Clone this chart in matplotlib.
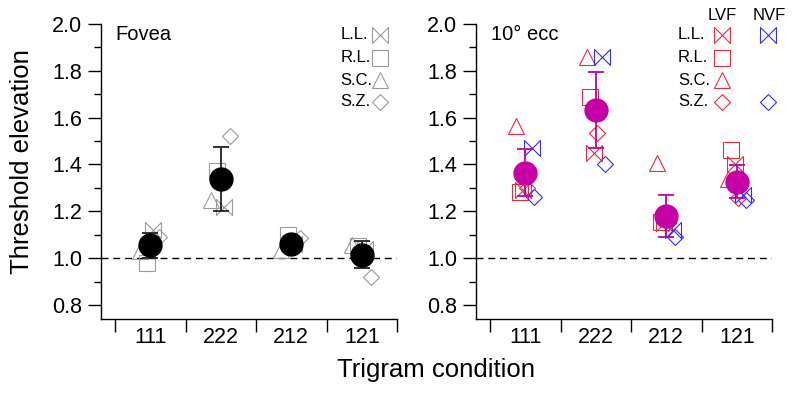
import numpy as np
import matplotlib
matplotlib.use('Agg')
import matplotlib.pyplot as plt
from matplotlib.path import Path

plt.rcParams['font.family'] = ['Liberation Sans', 'DejaVu Sans']

conditions = ['111', '222', '212', '121']
subjects = ['L.L.', 'R.L.', 'S.C.', 'S.Z.']

# fovea: individual subjects (grey) and mean +/- error
fovea_subj = {
    'L.L.': [1.12, 1.22, 1.06, 1.04],
    'R.L.': [0.98, 1.37, 1.10, 1.05],
    'S.C.': [1.03, 1.25, 1.035, 1.057],
    'S.Z.': [1.09, 1.52, 1.087, 0.92],
}
fovea_mean = [1.054, 1.338, 1.061, 1.014]
fovea_err = [0.054, 0.136, 0.0, 0.058]

# 10 deg eccentricity: LVF (red) and NVF (blue)
ecc_lvf = {
    'L.L.': [1.29, 1.45, 1.15, 1.40],
    'R.L.': [1.283, 1.69, 1.155, 1.462],
    'S.C.': [1.565, 1.86, 1.405, 1.34],
    'S.Z.': [1.30, 1.535, 1.15, 1.257],
}
ecc_nvf = {
    'L.L.': [1.47, 1.86, 1.12, 1.27],
    'S.Z.': [1.262, 1.40, 1.09, 1.25],
}
ecc_mean = [1.364, 1.633, 1.18, 1.326]
ecc_err = [0.10, 0.163, 0.09, 0.07]

bowtie = Path([(-1, -1), (-1, 1), (1, -1), (1, 1), (-1, -1)],
              [Path.MOVETO, Path.LINETO, Path.LINETO, Path.LINETO, Path.CLOSEPOLY])
markers = {'L.L.': (bowtie, 11.5), 'R.L.': ('s', 11.5), 'S.C.': ('^', 11.5), 'S.Z.': ('D', 8.6)}

fovea_jit = {'L.L.': 0.04, 'R.L.': -0.05, 'S.C.': -0.14, 'S.Z.': 0.13}
lvf_jit = {'L.L.': -0.03, 'R.L.': -0.08, 'S.C.': -0.13, 'S.Z.': 0.02}
nvf_jit = {'L.L.': 0.09, 'S.Z.': 0.13}

GREY = '#9a9a9a'
RED = '#f0283c'
BLUE = '#3030f0'
MAG = '#c400a6'

fig = plt.figure(figsize=(8, 3.93), dpi=100)
ax1 = fig.add_axes([0.12625, 0.1883, 0.37, 0.7507])
ax2 = fig.add_axes([0.595, 0.1883, 0.37, 0.7507])

x = np.arange(1, 5)


def style(ax):
    ax.set_xlim(0.3, 4.5)
    ax.set_ylim(0.74, 2.0)
    for s in ['top', 'right']:
        ax.spines[s].set_visible(False)
    for s in ['left', 'bottom']:
        ax.spines[s].set_linewidth(1.0)
    ax.set_yticks(np.arange(0.8, 2.01, 0.2))
    ax.set_yticks(np.arange(0.9, 2.0, 0.2), minor=True)
    ax.yaxis.set_major_formatter(plt.FormatStrFormatter('%.1f'))
    ax.tick_params(axis='y', which='major', length=9.5, width=1, labelsize=15.5, pad=4)
    ax.tick_params(axis='y', which='minor', length=5, width=1)
    ax.set_xticks(x)
    ax.set_xticklabels(conditions)
    ax.set_xticks(np.arange(0.5, 4.6, 1.0), minor=True)
    ax.tick_params(axis='x', which='major', length=0, labelsize=15.5, pad=6)
    ax.tick_params(axis='x', which='minor', length=9.5, width=1)
    ax.axhline(1.0, color='black', lw=1, ls=(0, (5, 3.5)), zorder=1)


def legend_row(ax, xt, xm, y, label, mk, ms, color, text=True):
    if text:
        ax.text(xt, y, label, transform=ax.transAxes, fontsize=12, va='center', ha='left')
    ax.plot([xm], [y], transform=ax.transAxes, marker=mk, ms=ms, mfc='none',
            mec=color, mew=0.8, ls='none', clip_on=False)


style(ax1)
for s in subjects:
    mk, ms = markers[s]
    ax1.plot(x + fovea_jit[s], fovea_subj[s], marker=mk, ms=ms, mfc='none',
             mec=GREY, mew=0.8, ls='none', zorder=2)
ax1.errorbar(x, fovea_mean, yerr=fovea_err, fmt='none', ecolor='#222222',
             elinewidth=1.3, capsize=6, capthick=1.3, zorder=3)
ax1.plot(x, fovea_mean, 'o', color='black', ms=16.5, zorder=4)
ax1.text(0.05, 0.946, 'Fovea', transform=ax1.transAxes, fontsize=14.5, va='baseline')
rows = [0.963, 0.886, 0.81, 0.737]
for s, yy in zip(subjects, rows):
    mk, ms = markers[s]
    legend_row(ax1, 0.81, 0.943, yy, s, mk, ms, GREY)

style(ax2)
for s in subjects:
    mk, ms = markers[s]
    ax2.plot(x + lvf_jit[s], ecc_lvf[s], marker=mk, ms=ms, mfc='none',
             mec=RED, mew=0.8, ls='none', zorder=2)
for s in ecc_nvf:
    mk, ms = markers[s]
    ax2.plot(x + nvf_jit[s], ecc_nvf[s], marker=mk, ms=ms, mfc='none',
             mec=BLUE, mew=0.8, ls='none', zorder=2)
ax2.errorbar(x, ecc_mean, yerr=ecc_err, fmt='none', ecolor=MAG,
             elinewidth=1.3, capsize=6, capthick=1.3, zorder=3)
ax2.plot(x, ecc_mean, 'o', color=MAG, ms=16.5, zorder=4)
ax2.text(0.05, 0.946, '10° ecc', transform=ax2.transAxes, fontsize=14.5, va='baseline')
for s, yy in zip(subjects, rows):
    mk, ms = markers[s]
    legend_row(ax2, 0.682, 0.831, yy, s, mk, ms, RED)
    if s in ecc_nvf:
        legend_row(ax2, 0, 0.986, yy, s, mk, ms, BLUE, text=False)
ax2.text(0.831, 1.03, 'LVF', transform=ax2.transAxes, fontsize=12, va='center', ha='center')
ax2.text(0.99, 1.03, 'NVF', transform=ax2.transAxes, fontsize=12, va='center', ha='center')

fig.text(0.028, 0.59, 'Threshold elevation', rotation=90, fontsize=18.5, ha='center', va='center')
fig.text(0.545, 0.041, 'Trigram condition', fontsize=18.5, ha='center', va='baseline')

fig.savefig('out.png', dpi=100)
